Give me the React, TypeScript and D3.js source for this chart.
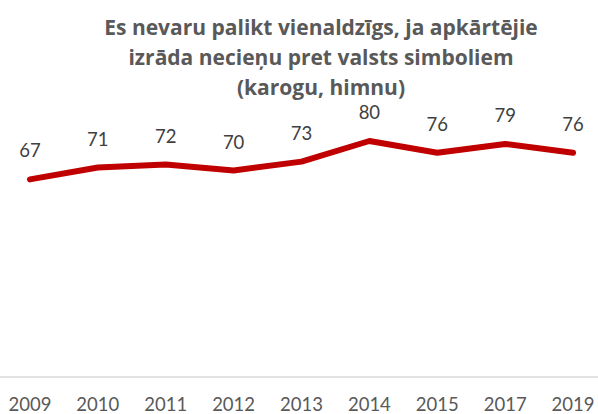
import React, { useEffect, useRef } from 'react'
import * as d3 from 'd3'

const titleLines = [
    'Es nevaru palikt vienaldzīgs, ja apkārtējie',
    'izrāda necieņu pret valsts simboliem',
    '(karogu, himnu)',
]
const years = ['2009', '2010', '2011', '2012', '2013', '2014', '2015', '2017', '2019']
const values = [67, 71, 72, 70, 73, 80, 76, 79, 76]

const width = 598
const height = 414
const font = 'Lato, "Open Sans", sans-serif'
const titleFont = '"Open Sans", Lato, sans-serif'

function makeChart(el: SVGSVGElement) {
    const svg = d3.select(el)
    svg.selectAll('*').remove()

    const x = d3
        .scaleBand()
        .domain(years)
        .range([-4, 607])
        .padding(0)

    const y = d3
        .scaleLinear()
        .domain([0, 100])
        .range([377, 82])

    const cx = (d: string) => (x(d) as number) + x.bandwidth() / 2

    // title
    svg.append('g')
        .selectAll('text')
        .data(titleLines)
        .enter()
        .append('text')
        .attr('x', 321)
        .attr('y', (d, i) => 35 + i * 30)
        .attr('text-anchor', 'middle')
        .attr('font-family', titleFont)
        .attr('font-weight', 'bold')
        .attr('font-size', 21)
        .attr('fill', '#595959')
        .text((d) => d)

    // category axis
    svg.append('line')
        .attr('x1', 0)
        .attr('x2', width)
        .attr('y1', y(0))
        .attr('y2', y(0))
        .attr('stroke', '#d9d9d9')
        .attr('stroke-width', 1.5)

    svg.append('g')
        .selectAll('text')
        .data(years)
        .enter()
        .append('text')
        .attr('x', (d) => cx(d))
        .attr('y', 411)
        .attr('text-anchor', 'middle')
        .attr('font-family', font)
        .attr('font-size', 18.5)
        .attr('fill', '#595959')
        .text((d) => d)

    const pts: [string, number][] = years.map((d, i) => [d, values[i]])

    const line = d3
        .line<[string, number]>()
        .x((d) => cx(d[0]))
        .y((d) => y(d[1]))

    svg.append('path')
        .datum(pts)
        .attr('d', line)
        .attr('fill', 'none')
        .attr('stroke', '#c00000')
        .attr('stroke-width', 6)
        .attr('stroke-linejoin', 'round')
        .attr('stroke-linecap', 'round')

    // data labels
    svg.append('g')
        .selectAll('text')
        .data(pts)
        .enter()
        .append('text')
        .attr('x', (d) => cx(d[0]))
        .attr('y', (d) => y(d[1]) - 22)
        .attr('text-anchor', 'middle')
        .attr('font-family', font)
        .attr('font-size', 18.5)
        .attr('fill', '#404040')
        .text((d) => d[1])
}

export default function App() {
    const ref = useRef<SVGSVGElement>(null)

    useEffect(() => {
        if (ref.current) makeChart(ref.current)
    }, [])

    return (
        <svg
            ref={ref}
            width={width}
            height={height}
            style={{ position: 'absolute', left: 0, top: 0, background: '#fff' }}
        />
    )
}
